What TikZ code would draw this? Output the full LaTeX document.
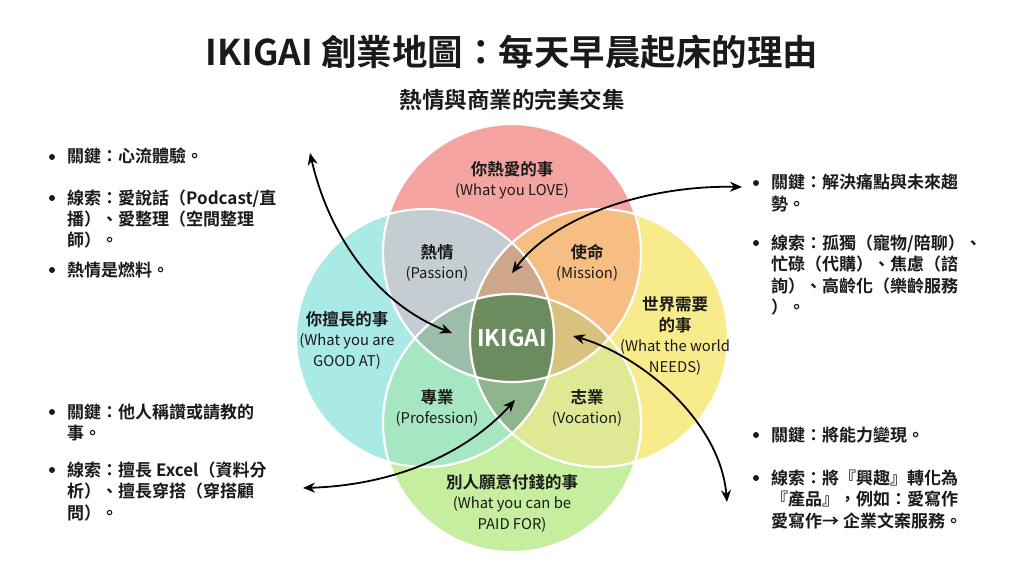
\documentclass[tikz,border=0pt]{standalone}
\usepackage{fontspec}
\setmainfont{Noto Sans CJK TC}[BoldFont={Noto Sans CJK TC Bold}]
\usetikzlibrary{arrows.meta}
\definecolor{cTop}{HTML}{F4A5A1}
\definecolor{cLeft}{HTML}{A9E9E6}
\definecolor{cRight}{HTML}{F7EB8C}
\definecolor{cBot}{HTML}{C5EE9E}
\definecolor{cPass}{HTML}{C4CDD1}
\definecolor{cMiss}{HTML}{F6BE83}
\definecolor{cProf}{HTML}{A6E6C2}
\definecolor{cVoc}{HTML}{DFE994}
\definecolor{cTT}{HTML}{CDA68C}
\definecolor{cLT}{HTML}{9CBDAA}
\definecolor{cRT}{HTML}{D9C27D}
\definecolor{cBT}{HTML}{8EB58C}
\definecolor{cCen}{HTML}{6C8B5F}
\definecolor{ink}{HTML}{1A1A1A}
\newcommand\ciT{(512,253) circle[radius=129]}
\newcommand\ciB{(512,423) circle[radius=129]}
\newcommand\ciL{(425,338) circle[radius=129]}
\newcommand\ciR{(599,338) circle[radius=129]}
\newcommand\hd[1]{{\bfseries\fontsize{16.5}{20.5}\selectfont #1}}
\newcommand\lns[1]{\begin{tabular}[t]{@{}l@{}}#1\end{tabular}}
\tikzset{
  lab/.style={align=center, font=\fontsize{14.8}{20.5}\selectfont, text=ink, inner sep=0pt},
  dot/.style={circle, fill=ink, inner sep=0pt, minimum size=6pt},
  btxt/.style={font=\bfseries\fontsize{17}{21.5}\selectfont, text=ink, inner sep=0pt, anchor=base west},
  arr/.style={line width=1.8pt, black, {Stealth[length=12pt,width=10pt]}-{Stealth[length=12pt,width=10pt]}},
}
\begin{document}
\begin{tikzpicture}[x=1pt,y=-1pt]
\useasboundingbox (0,0) rectangle (1024,572);
\fill[white] (0,0) rectangle (1024,572);
% base circles
\fill[cTop] \ciT;
\fill[cLeft] \ciL;
\fill[cRight] \ciR;
\fill[cBot] \ciB;
% pair overlaps
\begin{scope}\clip \ciT; \fill[cPass] \ciL; \fill[cMiss] \ciR; \end{scope}
\begin{scope}\clip \ciB; \fill[cProf] \ciL; \fill[cVoc] \ciR; \end{scope}
% triple overlaps
\begin{scope}\clip \ciT; \clip \ciL; \fill[cTT] \ciR; \end{scope}
\begin{scope}\clip \ciT; \clip \ciL; \fill[cLT] \ciB; \end{scope}
\begin{scope}\clip \ciT; \clip \ciR; \fill[cRT] \ciB; \end{scope}
\begin{scope}\clip \ciB; \clip \ciL; \fill[cBT] \ciR; \end{scope}
% centre
\begin{scope}\clip \ciT; \clip \ciL; \clip \ciR; \fill[cCen] \ciB; \end{scope}
% white outlines
\draw[white, line width=2.2pt] \ciT \ciL \ciR \ciB;

% titles
\node[font=\bfseries\fontsize{35.5}{42}\selectfont, text=ink, inner sep=0pt] (title) at (512,52) {IKIGAI 創業地圖：每天早晨起床的理由};
\node[font=\bfseries\fontsize{22.5}{27}\selectfont, text=ink, inner sep=0pt] (sub) at (512,100) {熱情與商業的完美交集};

% circle labels
\node[lab] (love) at (512,180) {\hd{你熱愛的事}\\(What you LOVE)};
\node[lab] (pass) at (437,263) {\hd{熱情}\\(Passion)};
\node[lab] (miss) at (587,263) {\hd{使命}\\(Mission)};
\node[lab] (good) at (347,340) {\hd{你擅長的事}\\(What you are\\GOOD AT)};
\node[lab] (world) at (675,336) {\hd{世界需要}\\\hd{的事}\\(What the world\\NEEDS)};
\node[lab] (prof) at (437,408) {\hd{專業}\\(Profession)};
\node[lab] (voc) at (587,408) {\hd{志業}\\(Vocation)};
\node[lab] (paid) at (512,503) {\hd{別人願意付錢的事}\\(What you can be\\PAID FOR)};
\node[font=\bfseries\fontsize{23}{28}\selectfont, text=white, inner sep=0pt] (ikigai) at (512,338) {IKIGAI};

% left bullet texts
\node[dot] (lb1) at (52,157) {};
\node[btxt] (lt1) at (67,163) {\lns{關鍵：心流體驗。}};
\node[dot] (lb2) at (52,198) {};
\node[btxt] (lt2) at (67,204) {\lns{線索：愛說話（Podcast/直\\播）、愛整理（空間整理\\師）。}};
\node[dot] (lb3) at (52,270) {};
\node[btxt] (lt3) at (67,276) {\lns{熱情是燃料。}};
\node[dot] (lb4) at (52,412) {};
\node[btxt] (lt4) at (67,418) {\lns{關鍵：他人稱讚或請教的\\事。}};
\node[dot] (lb5) at (52,470) {};
\node[btxt] (lt5) at (67,476) {\lns{線索：擅長 Excel（資料分\\析）、擅長穿搭（穿搭顧\\問）。}};

% right bullet texts
\node[dot] (rb1) at (756,183) {};
\node[btxt] (rt1) at (771,189) {\lns{關鍵：解決痛點與未來趨\\勢。}};
\node[dot] (rb2) at (756,243) {};
\node[btxt] (rt2) at (771,249) {\lns{線索：孤獨（寵物/陪聊）、\\忙碌（代購）、焦慮（諮\\詢）、高齡化（樂齡服務\\）。}};
\node[dot] (rb3) at (756,435) {};
\node[btxt] (rt3) at (771,441) {\lns{關鍵：將能力變現。}};
\node[dot] (rb4) at (756,478) {};
\node[btxt] (rt4) at (771,484) {\lns{線索：將『興趣』轉化為\\『產品』，例如：愛寫作\\愛寫作→ 企業文案服務。}};

% arrows
\coordinate (a1s) at (310,153);
\coordinate (a1e) at (452,333);
\coordinate (a2s) at (742,187);
\coordinate (a2e) at (512,273);
\coordinate (a3s) at (303,488);
\coordinate (a3e) at (515,400);
\coordinate (a4s) at (573,336);
\coordinate (a4e) at (727,502);
\draw[arr] (a1s) .. controls (330,240) and (380,305) .. (a1e);
\draw[arr] (a2s) .. controls (650,185) and (555,215) .. (a2e);
\draw[arr] (a3s) .. controls (400,485) and (470,450) .. (a3e);
\draw[arr] (a4s) .. controls (640,355) and (720,420) .. (a4e);
\end{tikzpicture}
\end{document}
